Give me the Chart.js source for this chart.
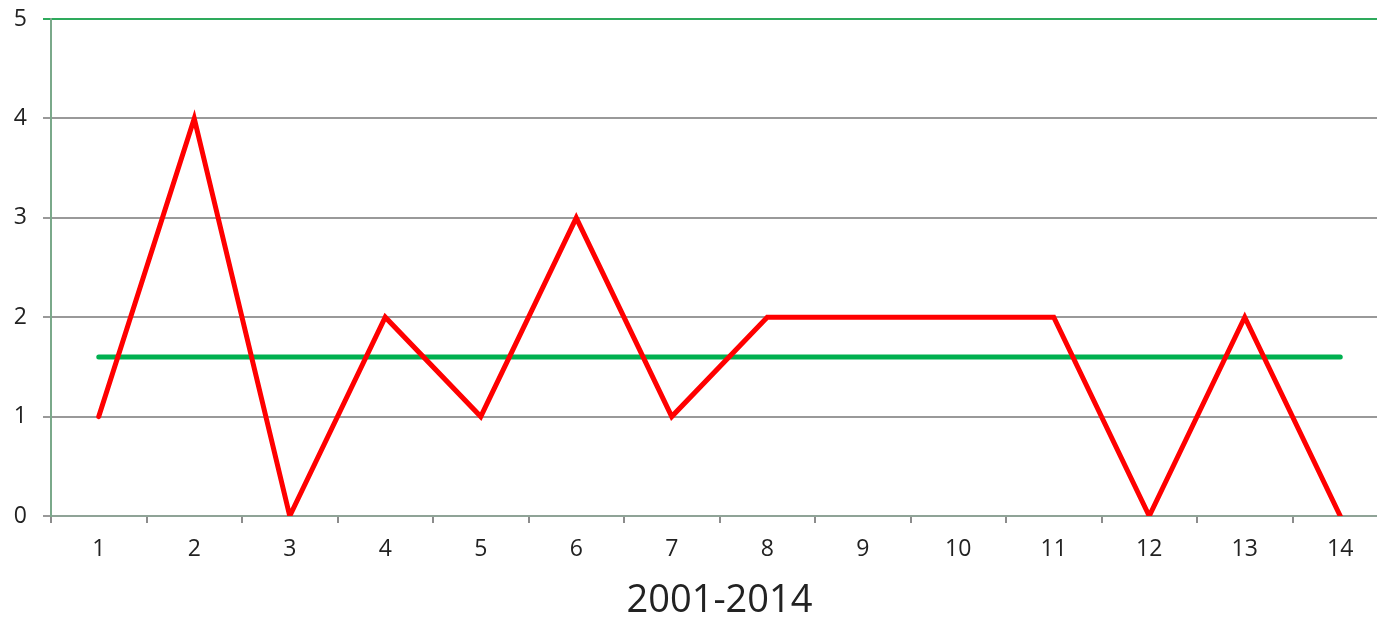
<!DOCTYPE html>
<html>
<head>
<meta charset="utf-8">
<script src="https://cdn.jsdelivr.net/npm/chart.js@4"></script>
<style>
  html, body { margin: 0; padding: 0; background: #fff; overflow: hidden; }
  #wrap { position: absolute; left: 0; top: 0; width: 1388px; height: 620px; }
</style>
</head>
<body>
<div id="wrap"><canvas id="dataChart"></canvas></div>
<script>
const labels = ['1','2','3','4','5','6','7','8','9','10','11','12','13','14']
const counts = [1, 4, 0, 2, 1, 3, 1, 2, 2, 2, 2, 0, 2, 0]
const average = [1.6, 1.6, 1.6, 1.6, 1.6, 1.6, 1.6, 1.6, 1.6, 1.6, 1.6, 1.6, 1.6, 1.6]
const yTicks = [0, 1, 2, 3, 4, 5]
const xTitle = '2001-2014'

const ctx = document.getElementById('dataChart');
const fontFamily = '"Open Sans", "Noto Sans", sans-serif';

var chartData = {
    labels: labels,
    datasets: [{
        label: 'count',
        data: counts,
        borderColor: '#ff0000',
        borderWidth: 5,
        borderCapStyle: 'round',
        pointRadius: 0,
        tension: 0,
        order: 1
    }, {
        label: 'average',
        data: average,
        borderColor: '#00b050',
        borderWidth: 5,
        borderCapStyle: 'round',
        pointRadius: 0,
        tension: 0,
        order: 2
    }]
}

var chartOptions = {
    responsive: true,
    maintainAspectRatio: false,
    animation: false,
    layout: { padding: { top: 19, right: 0, left: 0, bottom: 0 } },
    plugins: {
        legend: { display: false },
        tooltip: { enabled: false }
    },
    scales: {
        x: {
            offset: true,
            grid: {
                offset: true,
                drawOnChartArea: false,
                drawTicks: true,
                tickLength: 7,
                color: '#8c8c8c',
                lineWidth: 2
            },
            border: { color: '#8fa397', width: 2 },
            ticks: {
                color: '#222',
                font: { family: fontFamily, size: 23 },
                padding: 13
            },
            title: {
                display: true,
                text: xTitle,
                color: '#222',
                font: { family: fontFamily, size: 38, lineHeight: 1.0 },
                padding: { top: 11, bottom: 0 }
            },
            afterFit: function (scale) {
                scale.height = 104;
                scale.paddingLeft = 0;
                scale.paddingRight = 0;
            }
        },
        y: {
            min: 0,
            max: 5,
            afterBuildTicks: function (scale) {
                scale.ticks = yTicks.map(v => ({ value: v }));
            },
            grid: {
                color: c => c.tick && c.tick.value === 5 ? '#2eaa5c' : '#999999',
                lineWidth: 2,
                tickLength: 8
            },
            border: { color: '#7aa98a', width: 2 },
            ticks: {
                color: '#222',
                font: { family: fontFamily, size: 23 },
                padding: 16
            },
            afterFit: function (scale) {
                scale.width = 51;
                scale.paddingTop = 0;
                scale.paddingBottom = 0;
            }
        }
    }
};

var myChart = new Chart(ctx, {
    type: 'line',
    data: chartData,
    options: chartOptions
});
</script>
</body>
</html>
